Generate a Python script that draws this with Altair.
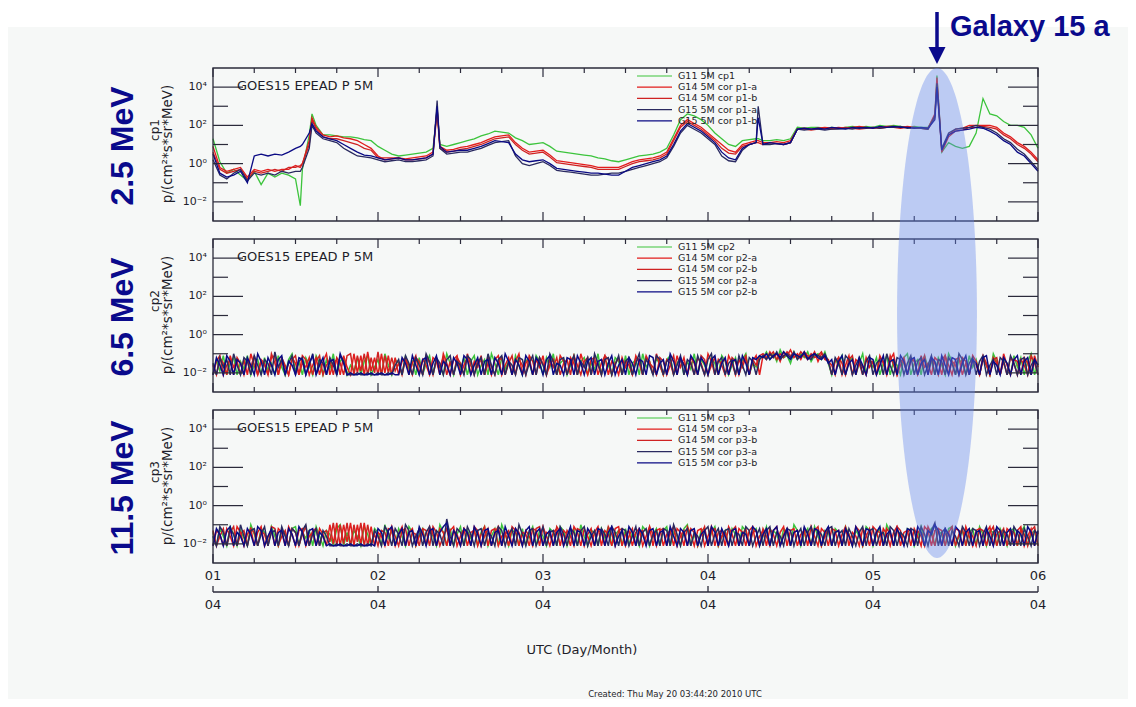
import altair as alt
import pandas as pd

# ---------------- data (log10 of flux) ----------------
P1_HOURS = [0, 1, 2, 3, 4, 5, 6, 7, 8, 9,
            10, 11, 12, 12.7, 13, 14, 14.4, 15, 16, 17,
            18, 19, 20, 21, 22, 23, 24, 25, 26, 27,
            28, 29, 30, 31, 32, 32.6, 33, 34, 35, 36,
            37, 38, 39, 40, 41, 42, 43, 44, 45, 46,
            47, 48, 49, 50, 51, 52, 53, 54, 55, 56,
            57, 58, 59, 60, 61, 62, 63, 64, 65, 66,
            67, 68, 69, 70, 71, 72, 73, 74, 75, 76,
            77, 78, 79, 79.3, 80, 81, 82, 83, 84, 85,
            86, 87, 88, 89, 90, 91, 92, 93, 94, 95,
            96, 97, 98, 99, 100, 101, 102, 103, 104, 105,
            105.3, 106, 107, 108, 109, 110, 111, 112, 113, 114,
            115, 116, 117, 118, 119, 120]

P1_G11 = [1.3, 0.1, -0.5, -0.3, -0.6, -0.9, -0.4, -1.1, -0.5, -0.7,
          -0.5, -0.6, -0.8, -2.2, -0.3, 1.5, 2.6, 2.0, 1.5, 1.5,
          1.45, 1.4, 1.4, 1.35, 1.25, 1.2, 0.9, 0.7, 0.5, 0.4,
          0.45, 0.5, 0.55, 0.6, 0.8, 2.8, 1.0, 0.9, 1.0, 1.1,
          1.2, 1.3, 1.45, 1.55, 1.7, 1.65, 1.6, 1.35, 1.2, 1.0,
          1.05, 1.1, 0.9, 0.65, 0.6, 0.55, 0.5, 0.45, 0.4, 0.3,
          0.25, 0.15, 0.1, 0.2, 0.3, 0.4, 0.45, 0.5, 0.6, 0.8,
          1.5, 2.3, 2.6, 2.5, 2.3, 2.0, 1.6, 1.3, 1.0, 0.9,
          1.2, 1.25, 1.3, 1.3, 1.2, 1.2, 1.25, 1.2, 1.3, 1.9,
          1.85, 1.9, 1.9, 1.85, 1.9, 1.85, 1.9, 1.95, 1.9, 1.95,
          1.9, 2.0, 1.95, 2.0, 1.95, 1.9, 1.95, 1.9, 1.9, 2.5,
          4.6, 0.6, 1.1, 0.9, 0.8, 0.9, 1.6, 3.4, 2.6, 2.5,
          2.2, 2.0, 2.0, 1.9, 1.5, 0.8]
P1_G14A = [0.9, -0.2, -0.4, -0.3, -0.2, -0.7, -0.3, -0.4, -0.3, -0.4,
           -0.3, -0.3, -0.1, -0.2, 0.0, 1.2, 2.4, 1.9, 1.5, 1.4,
           1.45, 1.35, 1.3, 1.2, 1.0, 0.8, 0.4, 0.2, 0.25, 0.3,
           0.25, 0.3, 0.35, 0.4, 0.6, 2.9, 0.9, 0.7, 0.75, 0.85,
           0.9, 1.0, 1.1, 1.25, 1.4, 1.45, 1.5, 1.1, 0.8, 0.6,
           0.65, 0.7, 0.45, 0.15, 0.1, 0.05, 0.0, -0.05, -0.1, -0.2,
           -0.2, -0.2, -0.2, -0.05, 0.1, 0.2, 0.25, 0.3, 0.4, 0.6,
           1.3, 2.0, 2.3, 2.1, 1.9, 1.6, 1.3, 1.0, 0.7, 0.6,
           1.0, 1.1, 1.2, 1.2, 1.1, 1.1, 1.15, 1.1, 1.2, 1.8,
           1.85, 1.8, 1.85, 1.9, 1.85, 1.9, 1.85, 1.9, 1.95, 1.9,
           1.85, 1.9, 1.95, 1.95, 1.9, 1.95, 1.9, 1.85, 1.85, 2.6,
           4.5, 0.7, 1.5, 1.8, 1.85, 2.0, 2.0, 2.0, 2.0, 1.9,
           1.6, 1.4, 1.1, 0.9, 0.6, 0.2]
P1_G14B = [0.6, -0.3, -0.5, -0.4, -0.3, -0.8, -0.4, -0.5, -0.4, -0.3,
           -0.4, -0.2, -0.2, -0.1, 0.0, 1.0, 2.3, 1.8, 1.4, 1.3,
           1.3, 1.2, 1.1, 1.0, 0.8, 0.7, 0.3, 0.3, 0.3, 0.3,
           0.2, 0.2, 0.25, 0.3, 0.5, 2.7, 0.8, 0.6, 0.65, 0.75,
           0.8, 0.9, 1.0, 1.15, 1.3, 1.35, 1.4, 1.0, 0.7, 0.5,
           0.55, 0.6, 0.35, 0.05, 0.0, -0.05, -0.1, -0.15, -0.2, -0.3,
           -0.3, -0.3, -0.3, -0.15, 0.0, 0.1, 0.15, 0.2, 0.3, 0.5,
           1.2, 1.9, 2.2, 2.0, 1.8, 1.5, 1.2, 0.8, 0.55, 0.5,
           0.9, 1.0, 1.1, 1.1, 1.0, 1.1, 1.05, 1.0, 1.1, 1.8,
           1.8, 1.75, 1.8, 1.85, 1.8, 1.85, 1.9, 1.85, 1.8, 1.85,
           1.9, 1.85, 1.9, 1.9, 1.85, 1.9, 1.85, 1.85, 1.8, 2.4,
           4.3, 0.6, 1.4, 1.7, 1.75, 1.9, 1.9, 1.95, 1.9, 1.8,
           1.5, 1.3, 1.0, 0.8, 0.5, 0.1]
P1_G15A = [0.2, -0.6, -0.8, -0.5, -0.3, -0.9, -0.5, -0.6, -0.5, -0.6,
           -0.4, -0.5, -0.4, -0.4, -0.2, 0.8, 2.0, 1.6, 1.3, 1.2,
           1.1, 0.8, 0.6, 0.4, 0.35, 0.3, 0.2, 0.1, 0.15, 0.2,
           0.1, 0.1, 0.15, 0.2, 0.4, 3.3, 0.8, 0.5, 0.55, 0.6,
           0.6, 0.7, 0.8, 0.95, 1.1, 1.15, 1.2, 0.4, 0.0, -0.1,
           0.0, 0.1, -0.1, -0.35, -0.4, -0.45, -0.5, -0.55, -0.6, -0.6,
           -0.55, -0.5, -0.5, -0.4, -0.3, -0.2, -0.1, 0.0, 0.1, 0.3,
           0.9, 1.6, 2.0, 1.8, 1.6, 1.3, 1.0, 0.4, 0.15, 0.1,
           0.7, 1.0, 1.1, 3.0, 1.0, 1.0, 1.05, 1.0, 1.1, 1.8,
           1.75, 1.8, 1.8, 1.75, 1.8, 1.8, 1.85, 1.8, 1.9, 1.85,
           1.9, 1.85, 1.9, 1.9, 1.95, 1.85, 1.9, 1.85, 1.8, 2.5,
           4.2, 0.8, 1.6, 1.8, 1.85, 1.9, 2.0, 1.9, 1.8, 1.6,
           1.3, 1.1, 0.75, 0.5, 0.1, -0.3]
P1_G15B = [0.5, -0.5, -0.7, -0.6, -0.4, -1.0, 0.4, 0.5, 0.4, 0.5,
           0.45, 0.6, 0.8, 0.9, 1.0, 1.6, 2.1, 1.7, 1.4, 1.3,
           1.2, 1.0, 0.8, 0.6, 0.45, 0.4, 0.3, 0.2, 0.25, 0.3,
           0.2, 0.2, 0.25, 0.3, 0.5, 3.0, 0.9, 0.6, 0.65, 0.7,
           0.7, 0.8, 0.9, 1.05, 1.2, 1.15, 1.1, 0.5, 0.2, 0.1,
           0.15, 0.2, 0.0, -0.25, -0.3, -0.35, -0.4, -0.45, -0.5, -0.5,
           -0.55, -0.6, -0.6, -0.4, -0.2, -0.1, 0.0, 0.1, 0.2, 0.4,
           1.0, 1.7, 2.1, 1.9, 1.7, 1.4, 1.1, 0.6, 0.3, 0.2,
           0.8, 1.0, 1.1, 2.4, 1.0, 1.1, 1.05, 1.0, 1.1, 1.8,
           1.85, 1.8, 1.85, 1.8, 1.9, 1.85, 1.8, 1.9, 1.85, 1.9,
           1.85, 1.95, 1.9, 1.95, 1.9, 1.9, 1.85, 1.9, 1.85, 2.3,
           4.0, 0.7, 1.5, 1.7, 1.75, 1.8, 1.9, 1.85, 1.7, 1.5,
           1.2, 1.0, 0.6, 0.4, 0.0, -0.4]

# half-hourly samples for the two background-level channels
NOISE_HOURS = [i / 2 for i in range(241)]

P2_G11 = [-2.1, -1.3, -1.9, -1.1, -2.1, -1.5, -1.2, -2.1, -1.4, -1.8,
          -1.1, -2.1, -1.6, -1.3, -2.1, -1.2, -1.9, -1.5, -2.1, -1.1,
          -1.7, -2.1, -1.3, -1.0, -1.9, -1.4, -2.1, -1.2, -1.6, -2.1,
          -1.1, -1.5, -2.1, -1.3, -1.8, -1.0, -2.1, -1.4, -1.2, -2.1,
          -1.6, -1.9, -1.2, -2.1, -1.4, -1.1, -2.1, -1.7, -1.3, -2.1,
          -1.0, -1.6, -2.1, -1.3, -1.5, -2.1, -1.1, -1.8, -1.4, -2.1,
          -1.2, -2.1, -1.5, -1.1, -2.1, -1.3, -1.7, -2.1, -1.0, -1.5,
          -2.1, -1.3, -1.8, -1.2, -2.1, -1.4, -1.1, -2.1, -1.6, -1.3,
          -2.1, -1.0, -1.5, -2.1, -1.2, -1.8, -1.4, -2.1, -1.1, -1.6,
          -2.1, -1.3, -1.5, -2.1, -1.1, -1.4, -2.1, -1.2, -1.7, -1.0,
          -2.1, -1.5, -1.3, -2.1, -1.6, -1.1, -2.1, -1.4, -1.2, -2.1,
          -1.5, -1.8, -1.0, -2.1, -1.3, -1.6, -2.1, -1.2, -1.4, -2.1,
          -1.1, -2.1, -1.5, -1.3, -2.1, -1.0, -1.7, -1.4, -2.1, -1.2,
          -1.6, -2.1, -1.3, -1.1, -2.1, -1.5, -1.2, -2.1, -1.4, -1.8,
          -1.0, -2.1, -1.3, -1.6, -2.1, -1.2, -1.5, -2.1, -1.1, -1.4,
          -2.1, -1.6, -1.2, -2.1, -1.3, -1.0, -2.1, -1.5, -1.7, -1.2,
          -1.2, -0.9, -1.3, -1.0, -1.4, -0.8, -1.2, -1.1, -1.5, -0.9,
          -1.3, -1.0, -1.2, -0.9, -1.4, -1.1, -1.0, -1.3, -0.9, -1.5,
          -2.1, -1.3, -1.6, -1.1, -2.1, -1.4, -1.2, -2.1, -1.5, -1.0,
          -2.1, -1.3, -1.7, -1.2, -2.1, -1.5, -1.1, -2.1, -1.4, -1.6,
          -2.1, -1.2, -1.0, -2.1, -1.5, -1.3, -2.1, -1.1, -1.7, -1.4,
          -2.1, -1.2, -1.6, -2.1, -1.0, -1.4, -2.1, -1.3, -1.5, -2.1,
          -1.1, -1.7, -1.3, -2.1, -1.2, -1.6, -2.1, -1.0, -1.4, -2.1,
          -1.3, -1.5, -2.1, -1.1, -1.7, -1.2, -2.1, -1.4, -1.0, -2.1,
          -1.5]
P2_G14A = [-1.6, -2.1, -1.2, -1.5, -2.1, -1.1, -1.7, -1.4, -2.1, -1.3,
           -2.1, -1.0, -1.6, -2.1, -1.3, -1.5, -2.1, -1.2, -1.1, -2.1,
           -1.4, -1.7, -2.1, -1.2, -1.5, -2.1, -1.1, -1.3, -2.1, -1.6,
           -1.2, -2.1, -1.4, -1.0, -2.1, -1.5, -1.3, -2.1, -1.1, -1.7,
           -2.1, -1.0, -2.0, -1.1, -2.1, -0.9, -1.9, -1.2, -2.1, -1.0,
           -2.0, -1.1, -2.1, -1.2, -2.1, -1.4, -1.2, -2.1, -1.5, -1.1,
           -2.1, -1.3, -1.6, -2.1, -1.2, -1.4, -2.1, -1.0, -1.5, -2.1,
           -1.3, -1.1, -2.1, -1.6, -1.2, -2.1, -1.4, -1.7, -1.1, -2.1,
           -1.5, -2.1, -1.3, -1.1, -2.1, -1.6, -1.2, -2.1, -1.4, -1.0,
           -2.1, -1.5, -1.2, -2.1, -1.3, -1.7, -1.1, -2.1, -1.6, -1.3,
           -2.1, -1.1, -1.4, -2.1, -1.2, -1.5, -2.1, -1.0, -1.6, -2.1,
           -1.3, -1.2, -2.1, -1.5, -1.1, -2.1, -1.4, -1.6, -2.1, -1.2,
           -1.7, -1.3, -2.1, -1.1, -1.5, -2.1, -1.2, -1.4, -2.1, -1.0,
           -1.6, -2.1, -1.3, -1.5, -2.1, -1.1, -1.7, -1.2, -2.1, -1.4,
           -2.1, -1.2, -1.5, -2.1, -1.0, -1.4, -2.1, -1.3, -1.6, -2.1,
           -1.1, -1.5, -2.1, -1.3, -1.7, -1.2, -2.1, -1.4, -1.1, -2.1,
           -1.1, -1.3, -0.9, -1.2, -1.0, -1.4, -0.9, -1.1, -0.8, -1.2,
           -1.0, -1.3, -0.9, -1.1, -1.2, -0.9, -1.4, -1.0, -1.2, -1.3,
           -2.1, -1.4, -1.2, -2.1, -1.6, -1.1, -2.1, -1.3, -1.5, -2.1,
           -1.2, -1.7, -1.4, -2.1, -1.1, -1.5, -2.1, -1.3, -1.0, -2.1,
           -1.6, -1.2, -2.1, -1.4, -1.3, -2.1, -1.1, -1.7, -1.5, -2.1,
           -1.2, -1.4, -2.1, -1.1, -1.6, -2.1, -1.3, -1.2, -2.1, -1.5,
           -2.1, -1.1, -1.4, -2.1, -1.3, -1.6, -2.1, -1.2, -1.5, -2.1,
           -1.0, -1.6, -2.1, -1.3, -1.4, -2.1, -1.2, -1.5, -2.1, -1.1,
           -1.7]
P2_G14B = [-2.1, -1.4, -1.1, -2.1, -1.6, -1.3, -2.1, -1.2, -1.5, -2.1,
           -1.3, -1.7, -1.1, -2.1, -1.4, -1.6, -2.1, -1.0, -1.5, -2.1,
           -1.2, -1.6, -2.1, -1.3, -1.1, -2.1, -1.5, -1.7, -1.2, -2.1,
           -1.4, -1.1, -2.1, -1.6, -1.3, -2.1, -1.2, -1.5, -2.1, -1.1,
           -1.0, -2.1, -1.1, -1.9, -1.0, -2.1, -1.2, -2.0, -0.9, -2.1,
           -1.1, -2.0, -1.2, -1.9, -1.5, -2.1, -1.3, -1.6, -2.1, -1.2,
           -1.4, -2.1, -1.1, -1.5, -2.1, -1.3, -1.7, -1.2, -2.1, -1.4,
           -2.1, -1.2, -1.5, -2.1, -1.0, -1.6, -2.1, -1.3, -1.4, -2.1,
           -1.1, -1.7, -2.1, -1.4, -1.2, -2.1, -1.5, -1.1, -2.1, -1.3,
           -1.6, -2.1, -1.1, -1.4, -2.1, -1.2, -1.5, -2.1, -1.3, -1.7,
           -1.2, -2.1, -1.5, -1.3, -2.1, -1.1, -1.6, -2.1, -1.4, -1.2,
           -2.1, -1.4, -1.6, -2.1, -1.1, -1.3, -2.1, -1.5, -1.2, -2.1,
           -1.4, -1.6, -2.1, -1.2, -1.3, -2.1, -1.1, -1.5, -1.7, -2.1,
           -1.2, -1.4, -2.1, -1.6, -1.1, -2.1, -1.3, -1.5, -2.1, -1.2,
           -1.5, -2.1, -1.1, -1.3, -2.1, -1.6, -1.2, -2.1, -1.4, -1.3,
           -2.1, -1.2, -1.4, -2.1, -1.5, -1.1, -2.1, -1.3, -1.6, -1.1,
           -1.0, -1.2, -1.1, -0.9, -1.3, -1.0, -1.2, -0.9, -1.1, -1.0,
           -1.2, -0.9, -1.1, -1.3, -1.0, -1.2, -1.1, -0.9, -1.3, -1.4,
           -1.6, -2.1, -1.2, -1.5, -2.1, -1.3, -1.1, -2.1, -1.4, -1.7,
           -2.1, -1.3, -1.5, -2.1, -1.2, -1.4, -2.1, -1.1, -1.6, -2.1,
           -1.3, -1.5, -2.1, -1.2, -1.4, -2.1, -1.6, -1.1, -2.1, -1.3,
           -1.5, -2.1, -1.3, -1.1, -2.1, -1.4, -1.6, -2.1, -1.2, -1.4,
           -2.1, -1.3, -1.6, -2.1, -1.1, -1.5, -2.1, -1.3, -1.2, -2.1,
           -1.4, -2.1, -1.2, -1.5, -2.1, -1.3, -1.6, -2.1, -1.1, -1.5,
           -2.1]
P2_G15A = [-1.5, -2.1, -1.2, -1.7, -1.3, -2.1, -1.0, -1.6, -2.1, -1.2,
           -1.4, -2.1, -1.1, -1.6, -2.1, -1.3, -1.5, -2.1, -0.9, -1.7,
           -1.3, -2.1, -1.5, -1.1, -2.1, -1.4, -1.2, -2.1, -1.6, -1.0,
           -2.1, -1.3, -1.5, -2.1, -1.2, -1.6, -2.1, -1.1, -1.4, -2.1,
           -2.1, -2.1, -2.0, -2.1, -2.1, -2.0, -2.1, -2.1, -2.0, -2.1,
           -2.1, -2.0, -2.1, -1.6, -1.3, -2.1, -1.1, -1.5, -2.1, -1.2,
           -1.6, -2.1, -1.0, -1.4, -2.1, -1.2, -1.5, -2.1, -1.3, -1.1,
           -2.1, -1.4, -1.6, -2.1, -1.1, -1.3, -2.1, -1.5, -1.2, -2.1,
           -1.0, -1.6, -2.1, -1.3, -1.1, -2.1, -1.4, -1.6, -2.1, -1.2,
           -1.3, -2.1, -1.5, -1.1, -2.1, -1.2, -1.6, -2.1, -1.0, -1.4,
           -2.1, -1.3, -1.2, -2.1, -1.5, -1.1, -2.1, -1.4, -1.7, -1.2,
           -2.1, -1.0, -1.5, -2.1, -1.3, -1.2, -2.1, -1.6, -1.1, -2.1,
           -1.4, -1.2, -2.1, -1.5, -1.0, -2.1, -1.3, -1.6, -2.1, -1.1,
           -1.3, -2.1, -1.4, -1.2, -2.1, -1.6, -1.1, -2.1, -1.3, -1.5,
           -2.1, -1.1, -1.6, -2.1, -1.3, -1.0, -2.1, -1.4, -1.2, -2.1,
           -1.5, -1.3, -2.1, -1.1, -1.6, -2.1, -1.2, -1.4, -2.1, -1.3,
           -1.1, -1.3, -1.0, -1.2, -0.9, -1.3, -1.1, -1.0, -1.2, -0.9,
           -1.3, -1.1, -1.0, -1.2, -1.3, -1.0, -1.1, -1.2, -1.0, -1.4,
           -2.1, -1.2, -1.5, -2.1, -1.1, -1.3, -2.1, -1.6, -1.2, -2.1,
           -1.4, -1.1, -2.1, -1.5, -1.3, -2.1, -1.0, -1.6, -2.1, -1.2,
           -1.3, -2.1, -1.5, -1.1, -2.1, -1.4, -1.2, -2.1, -1.6, -1.1,
           -2.1, -1.3, -1.4, -2.1, -1.2, -1.5, -2.1, -1.0, -1.3, -2.1,
           -1.5, -1.2, -2.1, -1.4, -1.1, -2.1, -1.6, -1.3, -2.1, -1.2,
           -1.4, -2.1, -1.1, -1.5, -2.1, -1.3, -1.2, -2.1, -1.6, -1.3,
           -2.1]
P2_G15B = [-2.1, -1.2, -1.6, -2.1, -1.1, -1.4, -2.1, -1.3, -1.5, -2.1,
           -1.2, -1.6, -2.1, -1.0, -1.4, -2.1, -1.2, -1.6, -2.1, -1.3,
           -1.1, -2.1, -1.4, -1.6, -2.1, -1.2, -1.3, -2.1, -1.5, -1.1,
           -2.1, -1.6, -1.2, -2.1, -1.4, -1.3, -2.1, -1.0, -1.5, -2.1,
           -2.0, -2.1, -2.1, -2.0, -2.1, -2.1, -2.0, -2.1, -2.1, -2.0,
           -2.1, -2.1, -2.0, -2.1, -2.1, -1.2, -1.5, -2.1, -1.1, -1.6,
           -2.1, -1.3, -1.2, -2.1, -1.5, -1.1, -2.1, -1.4, -1.6, -2.1,
           -1.2, -1.5, -2.1, -1.1, -1.3, -2.1, -1.6, -1.2, -2.1, -1.4,
           -1.3, -2.1, -1.2, -1.5, -2.1, -1.0, -1.4, -2.1, -1.3, -1.6,
           -2.1, -1.1, -1.4, -2.1, -1.2, -1.5, -2.1, -1.3, -1.1, -2.1,
           -1.5, -1.6, -2.1, -1.2, -1.3, -2.1, -1.1, -1.5, -2.1, -1.4,
           -1.2, -2.1, -1.4, -1.3, -2.1, -1.5, -1.1, -2.1, -1.6, -1.3,
           -2.1, -1.2, -1.5, -2.1, -1.3, -1.4, -2.1, -1.1, -1.2, -2.1,
           -1.5, -1.3, -2.1, -1.0, -1.4, -2.1, -1.2, -1.6, -2.1, -1.1,
           -1.4, -2.1, -1.2, -1.5, -2.1, -1.3, -1.1, -2.1, -1.5, -1.2,
           -2.1, -1.4, -1.3, -2.1, -1.1, -1.5, -2.1, -1.2, -1.3, -1.1,
           -1.2, -1.0, -1.3, -1.1, -1.0, -1.2, -0.9, -1.1, -1.3, -1.0,
           -1.1, -1.2, -0.9, -1.3, -1.1, -1.0, -1.2, -1.3, -1.1, -1.5,
           -1.3, -2.1, -1.4, -1.1, -2.1, -1.5, -1.3, -2.1, -1.2, -1.6,
           -2.1, -1.2, -1.3, -2.1, -1.6, -1.1, -2.1, -1.4, -1.3, -2.1,
           -1.1, -1.4, -2.1, -1.3, -1.2, -2.1, -1.5, -1.3, -2.1, -1.2,
           -1.4, -2.1, -1.1, -1.6, -2.1, -1.2, -1.3, -2.1, -1.5, -1.1,
           -2.1, -1.3, -1.5, -2.1, -1.2, -1.1, -2.1, -1.4, -1.6, -2.1,
           -1.2, -1.5, -2.1, -1.3, -1.1, -2.1, -1.4, -1.2, -2.1, -1.3,
           -1.6]

P3_G11 = [-1.4, -2.1, -1.2, -1.6, -2.1, -1.1, -1.5, -2.1, -1.3, -1.7,
          -2.1, -1.0, -1.5, -2.1, -1.2, -1.4, -2.1, -1.1, -1.6, -2.1,
          -1.3, -1.5, -2.1, -1.2, -1.1, -2.1, -1.4, -1.7, -1.3, -2.1,
          -1.1, -1.6, -2.1, -1.3, -1.5, -2.1, -1.2, -1.0, -2.1, -1.4,
          -2.1, -1.3, -1.6, -2.1, -1.1, -1.5, -2.1, -1.2, -1.4, -2.1,
          -1.0, -1.7, -1.3, -2.1, -1.2, -1.6, -2.1, -1.1, -1.4, -2.1,
          -1.5, -1.2, -2.1, -1.3, -1.6, -2.1, -1.0, -1.4, -2.1, -1.2,
          -2.1, -1.5, -1.1, -2.1, -1.3, -1.7, -1.2, -2.1, -1.4, -1.1,
          -2.1, -1.6, -1.2, -2.1, -1.0, -1.5, -2.1, -1.3, -1.4, -2.1,
          -1.2, -2.1, -1.5, -1.1, -2.1, -1.3, -1.6, -2.1, -1.2, -1.4,
          -2.1, -1.1, -1.3, -2.1, -1.5, -1.2, -2.1, -1.0, -1.6, -2.1,
          -1.3, -1.4, -2.1, -1.2, -1.7, -1.1, -2.1, -1.5, -1.3, -2.1,
          -1.2, -2.1, -1.4, -1.6, -2.1, -1.1, -1.3, -2.1, -1.5, -1.2,
          -2.1, -1.3, -1.1, -2.1, -1.4, -1.6, -2.1, -1.2, -1.0, -2.1,
          -1.5, -2.1, -1.3, -1.2, -2.1, -1.4, -1.1, -2.1, -1.6, -1.3,
          -2.1, -1.2, -1.5, -2.1, -1.1, -1.3, -2.1, -1.4, -1.2, -2.1,
          -1.6, -1.1, -2.1, -1.3, -1.5, -2.1, -1.2, -1.4, -2.1, -1.0,
          -1.3, -2.1, -1.5, -1.2, -2.1, -1.1, -1.6, -2.1, -1.3, -1.4,
          -2.1, -1.2, -1.4, -2.1, -1.1, -1.5, -2.1, -1.3, -1.6, -2.1,
          -1.1, -1.3, -2.1, -1.5, -1.2, -2.1, -1.0, -1.4, -2.1, -1.3,
          -1.5, -2.1, -1.2, -1.3, -2.1, -1.6, -1.1, -2.1, -1.4, -1.2,
          -2.1, -1.3, -1.5, -2.1, -1.2, -1.1, -2.1, -1.6, -1.3, -2.1,
          -1.4, -1.2, -2.1, -1.1, -1.5, -2.1, -1.3, -1.4, -2.1, -1.2,
          -1.6, -2.1, -1.3, -1.2, -2.1, -1.4, -1.1, -2.1, -1.5, -1.3,
          -2.1]
P3_G14A = [-2.1, -1.3, -1.5, -2.1, -1.2, -1.6, -2.1, -1.1, -1.4, -2.1,
           -1.5, -1.2, -2.1, -1.4, -1.1, -2.1, -1.6, -1.3, -2.1, -1.2,
           -1.4, -2.1, -1.1, -1.5, -2.1, -1.3, -1.2, -2.1, -1.6, -1.4,
           -2.1, -1.2, -1.5, -2.1, -1.0, -2.0, -0.9, -2.1, -1.0, -1.9,
           -0.9, -2.1, -1.0, -2.0, -0.9, -2.1, -1.1, -2.1, -1.4, -1.6,
           -2.1, -1.2, -1.3, -2.1, -1.5, -1.1, -2.1, -1.4, -1.2, -2.1,
           -1.6, -1.3, -2.1, -1.1, -1.5, -2.1, -1.2, -1.4, -2.1, -1.3,
           -1.1, -2.1, -1.6, -1.2, -2.1, -1.4, -1.3, -2.1, -1.5, -1.1,
           -2.1, -1.3, -1.2, -2.1, -1.6, -1.4, -2.1, -1.1, -1.3, -2.1,
           -1.4, -1.5, -2.1, -1.2, -1.3, -2.1, -1.1, -1.6, -2.1, -1.4,
           -1.2, -2.1, -1.3, -1.5, -2.1, -1.1, -1.4, -2.1, -1.2, -1.6,
           -2.1, -1.4, -1.1, -2.1, -1.3, -1.5, -2.1, -1.2, -1.1, -2.1,
           -1.5, -1.3, -2.1, -1.4, -1.2, -2.1, -1.6, -1.1, -2.1, -1.3,
           -1.2, -2.1, -1.5, -1.3, -2.1, -1.2, -1.4, -2.1, -1.1, -1.5,
           -2.1, -1.3, -1.2, -2.1, -1.6, -1.1, -2.1, -1.4, -1.3, -2.1,
           -1.1, -1.5, -2.1, -1.2, -1.4, -2.1, -1.3, -1.1, -2.1, -1.6,
           -1.3, -2.1, -1.2, -1.5, -2.1, -1.4, -1.1, -2.1, -1.3, -1.2,
           -2.1, -1.5, -1.3, -2.1, -1.1, -1.6, -2.1, -1.2, -1.4, -2.1,
           -1.2, -1.3, -2.1, -1.5, -1.1, -2.1, -1.4, -1.6, -2.1, -1.2,
           -1.5, -2.1, -1.1, -1.3, -2.1, -1.2, -1.5, -2.1, -1.4, -1.1,
           -2.1, -1.4, -1.3, -2.1, -1.2, -1.6, -2.1, -1.1, -1.3, -2.1,
           -1.3, -1.2, -2.1, -1.5, -1.4, -2.1, -1.2, -1.3, -2.1, -1.1,
           -1.6, -2.1, -1.3, -1.2, -2.1, -1.4, -1.1, -2.1, -1.5, -1.3,
           -2.1, -1.2, -1.4, -2.1, -1.3, -1.1, -2.1, -1.6, -1.2, -2.1,
           -1.4]
P3_G14B = [-1.3, -2.1, -1.6, -1.2, -2.1, -1.4, -1.1, -2.1, -1.5, -1.3,
           -2.1, -1.2, -1.4, -2.1, -1.3, -1.5, -2.1, -1.1, -1.2, -2.1,
           -1.6, -1.3, -2.1, -1.2, -1.4, -2.1, -1.5, -1.1, -2.1, -1.3,
           -1.2, -2.1, -1.4, -1.3, -1.9, -0.9, -2.1, -1.0, -2.0, -0.9,
           -2.1, -1.0, -1.9, -0.9, -2.1, -1.0, -2.0, -1.5, -2.1, -1.3,
           -1.4, -2.1, -1.1, -1.6, -2.1, -1.3, -1.2, -2.1, -1.4, -1.5,
           -2.1, -1.2, -1.3, -2.1, -1.1, -1.4, -2.1, -1.6, -1.2, -2.1,
           -1.3, -1.5, -2.1, -1.2, -1.4, -2.1, -1.1, -1.3, -2.1, -1.6,
           -1.2, -2.1, -1.4, -1.1, -2.1, -1.5, -1.3, -2.1, -1.2, -1.4,
           -2.1, -1.3, -1.6, -2.1, -1.2, -1.1, -2.1, -1.4, -1.5, -2.1,
           -1.1, -1.4, -2.1, -1.3, -1.6, -2.1, -1.2, -1.3, -2.1, -1.5,
           -1.2, -2.1, -1.3, -1.4, -2.1, -1.1, -1.5, -2.1, -1.3, -1.2,
           -2.1, -1.6, -1.2, -2.1, -1.4, -1.3, -2.1, -1.1, -1.5, -2.1,
           -1.3, -1.2, -2.1, -1.4, -1.1, -2.1, -1.6, -1.3, -2.1, -1.2,
           -1.4, -2.1, -1.5, -1.1, -2.1, -1.3, -1.2, -2.1, -1.6, -1.4,
           -2.1, -1.3, -1.1, -2.1, -1.5, -1.2, -2.1, -1.4, -1.3, -2.1,
           -1.2, -1.6, -2.1, -1.3, -1.1, -2.1, -1.5, -1.2, -2.1, -1.4,
           -1.3, -2.1, -1.2, -1.4, -2.1, -1.3, -1.1, -2.1, -1.6, -1.2,
           -2.1, -1.4, -1.3, -2.1, -1.2, -1.5, -2.1, -1.1, -1.3, -2.1,
           -1.6, -1.2, -2.1, -1.3, -1.4, -2.1, -1.2, -1.5, -2.1, -1.1,
           -1.3, -2.1, -1.4, -1.2, -2.1, -1.3, -1.6, -2.1, -1.1, -1.5,
           -2.1, -1.2, -1.3, -2.1, -1.4, -1.1, -2.1, -1.5, -1.2, -2.1,
           -1.3, -1.6, -2.1, -1.2, -1.3, -2.1, -1.4, -1.1, -2.1, -1.5,
           -1.2, -2.1, -1.3, -1.4, -2.1, -1.2, -1.5, -2.1, -1.3, -1.1,
           -2.1]
P3_G15A = [-1.6, -2.1, -1.1, -1.4, -2.1, -1.2, -1.5, -2.1, -1.0, -1.6,
           -2.1, -1.3, -1.2, -2.1, -1.5, -1.1, -2.1, -1.4, -1.3, -2.1,
           -1.1, -1.6, -2.1, -1.2, -1.4, -2.1, -1.3, -1.0, -2.1, -1.5,
           -1.2, -2.1, -1.3, -1.6, -2.1, -2.1, -2.0, -2.1, -2.1, -2.0,
           -2.1, -2.1, -2.0, -2.1, -2.1, -2.0, -2.1, -1.3, -1.6, -2.1,
           -1.1, -1.4, -2.1, -1.2, -1.5, -2.1, -1.0, -1.3, -2.1, -1.6,
           -1.2, -2.1, -1.4, -1.1, -2.1, -1.3, -1.5, -2.1, -0.7, -1.6,
           -2.1, -1.2, -1.4, -2.1, -1.1, -1.5, -2.1, -1.3, -1.2, -2.1,
           -1.4, -1.6, -2.1, -1.1, -1.3, -2.1, -1.5, -1.2, -2.1, -1.0,
           -1.5, -2.1, -1.3, -1.2, -2.1, -1.6, -1.1, -2.1, -1.4, -1.3,
           -2.1, -1.1, -1.5, -2.1, -1.2, -1.4, -2.1, -1.3, -1.1, -2.1,
           -1.6, -1.3, -2.1, -1.2, -1.5, -2.1, -1.1, -1.4, -2.1, -1.2,
           -1.3, -2.1, -1.6, -1.1, -2.1, -1.4, -1.2, -2.1, -1.5, -1.3,
           -2.1, -1.2, -1.3, -2.1, -1.0, -1.5, -2.1, -1.4, -1.2, -2.1,
           -1.4, -1.6, -2.1, -1.3, -1.1, -2.1, -1.5, -1.2, -2.1, -1.3,
           -1.2, -2.1, -1.4, -1.5, -2.1, -1.1, -1.3, -2.1, -1.6, -1.2,
           -2.1, -1.3, -1.1, -2.1, -1.4, -1.6, -2.1, -1.2, -1.3, -2.1,
           -1.5, -1.2, -2.1, -1.4, -1.1, -2.1, -1.3, -1.5, -2.1, -1.2,
           -1.1, -2.1, -1.5, -1.3, -2.1, -1.2, -1.6, -2.1, -1.4, -1.1,
           -2.1, -1.3, -1.2, -2.1, -1.5, -1.4, -2.1, -1.1, -1.3, -2.1,
           -1.4, -1.6, -2.1, -1.2, -1.3, -2.1, -1.1, -1.5, -2.1, -1.3,
           -0.9, -2.1, -1.4, -1.2, -2.1, -1.3, -1.6, -2.1, -1.1, -1.4,
           -2.1, -1.2, -1.3, -2.1, -1.5, -1.1, -2.1, -1.4, -1.2, -2.1,
           -1.3, -1.5, -2.1, -1.1, -1.4, -2.1, -1.2, -1.6, -2.1, -1.3,
           -1.5]
P3_G15B = [-2.1, -1.2, -1.5, -2.1, -1.3, -1.1, -2.1, -1.4, -1.6, -2.1,
           -1.2, -1.5, -2.1, -1.1, -1.3, -2.1, -1.6, -1.2, -2.1, -1.4,
           -1.3, -2.1, -1.2, -1.5, -2.1, -1.1, -1.4, -2.1, -1.3, -1.2,
           -2.1, -1.4, -1.6, -2.1, -2.0, -2.1, -2.1, -2.0, -2.1, -2.1,
           -2.0, -2.1, -2.1, -2.0, -2.1, -2.1, -2.0, -2.1, -1.2, -1.4,
           -2.1, -1.3, -1.1, -2.1, -1.5, -1.2, -2.1, -1.4, -1.3, -2.1,
           -1.1, -1.5, -2.1, -1.3, -1.2, -2.1, -1.4, -1.1, -0.9, -2.1,
           -1.3, -1.6, -2.1, -1.2, -1.4, -2.1, -1.1, -1.5, -2.1, -1.3,
           -1.2, -2.1, -1.4, -1.3, -2.1, -1.1, -1.6, -2.1, -1.2, -1.5,
           -2.1, -1.3, -1.1, -2.1, -1.4, -1.2, -2.1, -1.5, -1.3, -2.1,
           -1.4, -1.2, -2.1, -1.6, -1.1, -2.1, -1.3, -1.4, -2.1, -1.2,
           -1.5, -2.1, -1.2, -1.3, -2.1, -1.4, -1.1, -2.1, -1.6, -1.3,
           -2.1, -1.1, -1.4, -2.1, -1.2, -1.5, -2.1, -1.3, -1.2, -2.1,
           -1.4, -1.3, -2.1, -1.1, -1.6, -2.1, -1.2, -1.4, -2.1, -1.3,
           -1.2, -2.1, -1.5, -1.3, -2.1, -1.1, -1.4, -2.1, -1.2, -1.6,
           -2.1, -1.3, -1.2, -2.1, -1.4, -1.5, -2.1, -1.1, -1.3, -2.1,
           -1.5, -1.2, -2.1, -1.3, -1.1, -2.1, -1.6, -1.2, -2.1, -1.4,
           -1.3, -2.1, -1.1, -1.5, -2.1, -1.2, -1.3, -2.1, -1.4, -1.1,
           -2.1, -1.4, -1.3, -2.1, -1.2, -1.6, -2.1, -1.1, -1.5, -2.1,
           -1.2, -1.3, -2.1, -1.4, -1.1, -2.1, -1.5, -1.3, -2.1, -1.2,
           -1.6, -2.1, -1.2, -1.3, -2.1, -1.1, -1.4, -2.1, -1.3, -1.5,
           -1.0, -1.3, -2.1, -1.2, -1.5, -2.1, -1.1, -1.3, -2.1, -1.4,
           -1.2, -2.1, -1.4, -1.3, -2.1, -1.2, -1.6, -2.1, -1.1, -1.3,
           -2.1, -1.4, -1.2, -2.1, -1.3, -1.5, -2.1, -1.1, -1.4, -2.1,
           -1.3]

LEGENDS = [
    ["G11 5M cp1", "G14 5M cor p1-a", "G14 5M cor p1-b", "G15 5M cor p1-a", "G15 5M cor p1-b"],
    ["G11 5M cp2", "G14 5M cor p2-a", "G14 5M cor p2-b", "G15 5M cor p2-a", "G15 5M cor p2-b"],
    ["G11 5M cp3", "G14 5M cor p3-a", "G14 5M cor p3-b", "G15 5M cor p3-a", "G15 5M cor p3-b"],
]
CHANNEL_TITLES = ["cp1", "cp2", "cp3"]
ENERGY_LABELS = ["2.5 MeV", "6.5 MeV", "11.5 MeV"]
SERIES_COLORS = ["#3cc43c", "#e21d1d", "#cf2222", "#2a2a60", "#0a0a84"]

Y_TICKS_MAJOR = [1e4, 1e2, 1e0, 1e-2]
Y_TICKS_MINOR = [1e3, 1e1, 1e-1]
Y_LABELS = ["10⁴", "10²", "10⁰", "10⁻²"]
X_TICKS_6H = [6, 12, 18, 30, 36, 42, 54, 60, 66, 78, 84, 90, 102, 108, 114]
X_TICKS_DAY = [0, 24, 48, 72, 96, 120]
DAY_LABELS = ["01", "02", "03", "04", "05", "06"]
MONTH_LABELS = ["04", "04", "04", "04", "04", "04"]

# ---------------- layout / style ----------------
W, H = 1120, 691
LEFT, RIGHT = 205, 1030
TOPS = [60, 231, 402]
PH = 153
AX = "#2b2b3b"
TXT = "#1e1e2a"
BLUE = "#0a0a8c"
IDL = "DejaVu Sans"
BOLD = "Liberation Sans"

xscale = alt.Scale(domain=[0, 120], range=[LEFT, RIGHT], nice=False, zero=False)


def yscale(top):
    return alt.Scale(type="log", domain=[1e-3, 1e5], range=[top + PH, top], nice=False)


def one():
    return alt.Chart(pd.DataFrame({"k": [0]}))


panel_series = [
    (P1_HOURS, [P1_G11, P1_G14A, P1_G14B, P1_G15A, P1_G15B], 1.3),
    (NOISE_HOURS, [P2_G11, P2_G14A, P2_G14B, P2_G15A, P2_G15B], 1.5),
    (NOISE_HOURS, [P3_G11, P3_G14A, P3_G14B, P3_G15A, P3_G15B], 1.5),
]

layers = []
# page background
layers.append(one().mark_rect(color="#f6f8f7").encode(
    x=alt.value(0), x2=alt.value(W), y=alt.value(19), y2=alt.value(H)))

for p, top in enumerate(TOPS):
    bot = top + PH
    ys = yscale(top)
    hours, series, sw = panel_series[p]
    for vals, col in zip(series, SERIES_COLORS):
        assert len(vals) == len(hours)
        df = pd.DataFrame({"h": hours, "v": [10 ** e for e in vals]})
        layers.append(alt.Chart(df).mark_line(color=col, strokeWidth=sw).encode(
            x=alt.X("h:Q", scale=xscale, axis=None),
            y=alt.Y("v:Q", scale=ys, axis=None)))
    # frame
    layers.append(one().mark_rect(fillOpacity=0, stroke=AX, strokeWidth=1.3).encode(
        x=alt.value(LEFT), x2=alt.value(RIGHT), y=alt.value(top), y2=alt.value(bot)))
    # y ticks
    dmaj = pd.DataFrame({"t": Y_TICKS_MAJOR, "lab": Y_LABELS})
    dmin = pd.DataFrame({"t": Y_TICKS_MINOR})
    for d, ln in ((dmaj, 30), (dmin, 15)):
        layers.append(alt.Chart(d).mark_rule(color=AX, strokeWidth=1.2).encode(
            y=alt.Y("t:Q", scale=ys, axis=None), x=alt.value(LEFT), x2=alt.value(LEFT + ln)))
        layers.append(alt.Chart(d).mark_rule(color=AX, strokeWidth=1.2).encode(
            y=alt.Y("t:Q", scale=ys, axis=None), x=alt.value(RIGHT - ln), x2=alt.value(RIGHT)))
    layers.append(alt.Chart(dmaj).mark_text(align="right", baseline="middle", font=IDL,
                                            fontSize=11, color=TXT).encode(
        y=alt.Y("t:Q", scale=ys, axis=None), x=alt.value(LEFT - 6), text="lab:N"))
    # x ticks
    d6 = pd.DataFrame({"h": X_TICKS_6H})
    dd = pd.DataFrame({"h": X_TICKS_DAY})
    for d, ln in ((d6, 5), (dd, 9)):
        layers.append(alt.Chart(d).mark_rule(color=AX, strokeWidth=1.2).encode(
            x=alt.X("h:Q", scale=xscale, axis=None), y=alt.value(top), y2=alt.value(top + ln)))
        layers.append(alt.Chart(d).mark_rule(color=AX, strokeWidth=1.2).encode(
            x=alt.X("h:Q", scale=xscale, axis=None), y=alt.value(bot - ln), y2=alt.value(bot)))
    # legend
    dl = pd.DataFrame({"row": [0, 1, 2, 3, 4], "label": LEGENDS[p], "color": SERIES_COLORS})
    rs = alt.Scale(domain=[0, 4], range=[top + 8, top + 8 + 4 * 11.2])
    layers.append(alt.Chart(dl).mark_rule(strokeWidth=1.2).encode(
        y=alt.Y("row:Q", scale=rs, axis=None), x=alt.value(629), x2=alt.value(664),
        color=alt.Color("color:N", scale=None)))
    layers.append(alt.Chart(dl).mark_text(align="left", baseline="middle", font=IDL,
                                          fontSize=9.5, color=TXT).encode(
        y=alt.Y("row:Q", scale=rs, axis=None), x=alt.value(670), text="label:N"))
    # titles in panel
    layers.append(one().mark_text(text="GOES15 EPEAD P 5M", align="left", baseline="middle",
                                  font=IDL, fontSize=13, color=TXT).encode(
        x=alt.value(229), y=alt.value(top + 17.5)))
    layers.append(one().mark_text(text="p/(cm²*s*sr*MeV)", angle=270, align="center",
                                  baseline="middle", font=IDL, fontSize=13.5, color=TXT).encode(
        x=alt.value(160), y=alt.value(top + 76)))
    layers.append(one().mark_text(text=CHANNEL_TITLES[p], angle=270, align="center",
                                  baseline="middle", font=IDL, fontSize=12, color=TXT).encode(
        x=alt.value(147), y=alt.value(top + 62)))
    layers.append(one().mark_text(text=ENERGY_LABELS[p], angle=270, align="center",
                                  baseline="middle", font=BOLD, fontSize=32, fontWeight="bold",
                                  color=BLUE).encode(
        x=alt.value(115), y=alt.value(top + 78)))

# bottom time axes
ddl = pd.DataFrame({"h": X_TICKS_DAY, "d": DAY_LABELS, "m": MONTH_LABELS})
layers.append(alt.Chart(ddl).mark_text(baseline="middle", font=IDL, fontSize=13, color=TXT).encode(
    x=alt.X("h:Q", scale=xscale, axis=None), y=alt.value(568), text="d:N"))
layers.append(one().mark_rule(color=AX, strokeWidth=1.3).encode(
    x=alt.value(LEFT), x2=alt.value(RIGHT), y=alt.value(584)))
layers.append(alt.Chart(ddl).mark_rule(color=AX, strokeWidth=1.3).encode(
    x=alt.X("h:Q", scale=xscale, axis=None), y=alt.value(578), y2=alt.value(584)))
layers.append(alt.Chart(ddl).mark_text(baseline="middle", font=IDL, fontSize=13, color=TXT).encode(
    x=alt.X("h:Q", scale=xscale, axis=None), y=alt.value(597), text="m:N"))
layers.append(one().mark_text(text="UTC (Day/Month)", baseline="middle", font=IDL, fontSize=13,
                              color=TXT).encode(x=alt.value(574), y=alt.value(642)))
layers.append(one().mark_text(text="Created: Thu May 20 03:44:20 2010 UTC", baseline="middle",
                              font=IDL, fontSize=8.5, color=TXT).encode(
    x=alt.value(667), y=alt.value(686)))

# highlight ellipse
a, k = 0.163, 0.5523
ell = (f"M 0 -1 C {k*a:.4f} -1 {a} -{k} {a} 0 C {a} {k} {k*a:.4f} 1 0 1 "
       f"C -{k*a:.4f} 1 -{a} {k} -{a} 0 C -{a} -{k} -{k*a:.4f} -1 0 -1 Z")
layers.append(one().mark_point(shape=ell, filled=True, size=490 ** 2, color="#6688ee",
                               opacity=0.4, strokeWidth=0).encode(
    x=alt.value(929), y=alt.value(305)))
# arrow + annotation
layers.append(one().mark_rule(color=BLUE, strokeWidth=3.5).encode(
    x=alt.value(929), y=alt.value(4), y2=alt.value(44)))
layers.append(one().mark_point(shape="M -1 -1 L 1 -1 L 0 1 Z", filled=True, size=289,
                               color=BLUE, opacity=1, strokeWidth=0).encode(
    x=alt.value(929), y=alt.value(47.5)))
layers.append(one().mark_text(text="Galaxy 15 a", align="left", baseline="alphabetic",
                              font=BOLD, fontSize=29, fontWeight="bold", color=BLUE).encode(
    x=alt.value(942), y=alt.value(28)))

chart = alt.layer(*layers).resolve_scale(y="independent").properties(
    width=W, height=H, autosize=alt.AutoSizeParams(type="none"), padding=0,
    background="white").configure_view(strokeWidth=0)

chart.save("out.html", embed_options={"renderer": "svg", "actions": False})
